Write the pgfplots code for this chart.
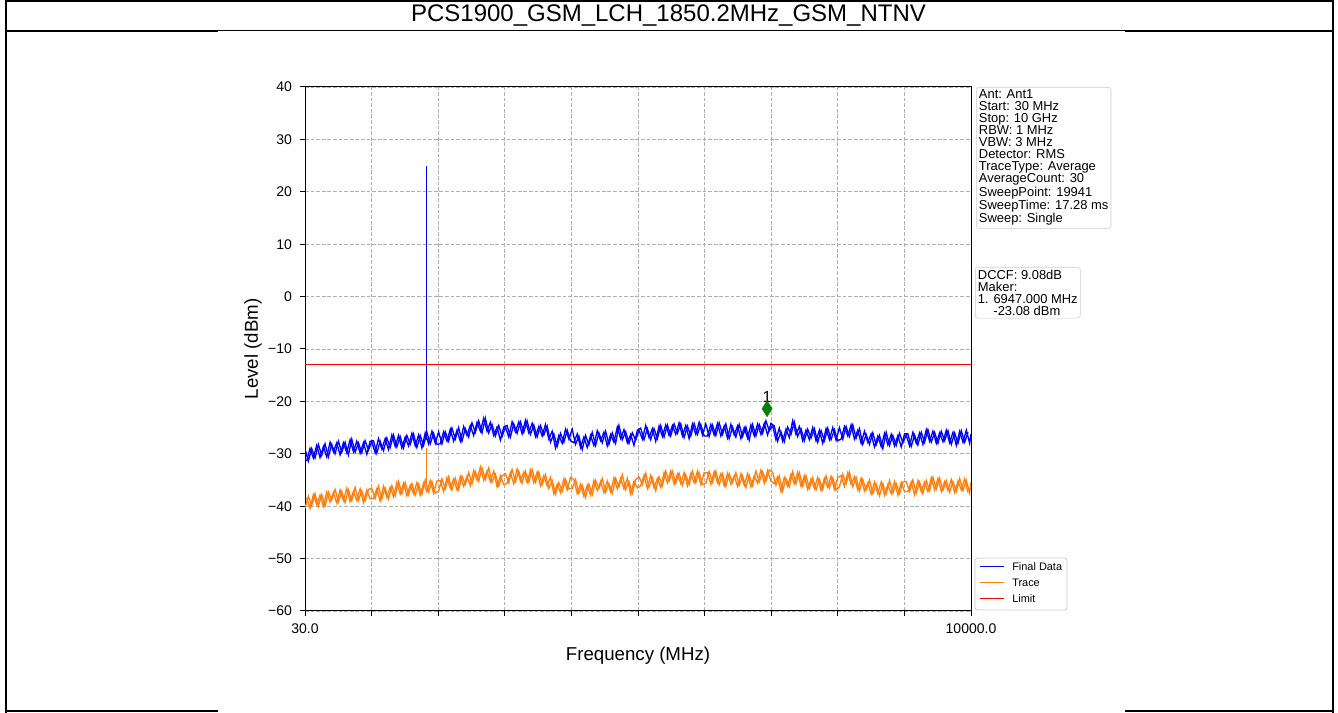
\documentclass[border=0pt]{standalone}
\usepackage{fontspec}
\setmainfont{Liberation Sans}
\usepackage{pgfplots}
\usepackage{pgfplotstable}
\pgfplotsset{compat=1.18}

\definecolor{fdblue}{RGB}{0,0,255}
\definecolor{trorange}{RGB}{255,127,14}
\definecolor{limred}{RGB}{255,0,0}
\definecolor{gridgray}{RGB}{176,176,176}
\definecolor{boxgray}{RGB}{204,204,204}
\definecolor{mkgreen}{RGB}{0,128,0}

% f = frequency (MHz), fd = Final Data (dBm), tr = Trace (dBm)
\pgfplotstableread{
f fd tr
30 -29.1 -40.4
80 -31.4 -38.1
130 -29.0 -39.9
180 -30.8 -37.6
230 -28.2 -40.0
280 -30.3 -37.8
330 -28.1 -40.0
380 -30.6 -37.3
430 -28.2 -38.8
480 -30.0 -36.8
530 -27.6 -39.2
580 -29.7 -37.2
630 -27.8 -39.3
680 -30.2 -36.9
730 -27.2 -38.9
780 -29.7 -36.4
830 -27.9 -38.9
880 -29.8 -37.1
930 -27.5 -39.0
980 -29.3 -36.8
1030 -27.7 -36.6
1080 -29.8 -38.5
1130 -27.1 -36.2
1180 -29.1 -38.6
1230 -27.1 -36.5
1280 -29.2 -38.6
1330 -26.4 -36.1
1380 -28.6 -38.0
1430 -26.5 -35.3
1480 -28.9 -37.6
1530 -26.8 -35.5
1580 -28.5 -37.8
1630 -26.1 -35.7
1680 -28.5 -37.9
1730 -26.4 -35.8
1780 -28.9 -37.7
1830 -26.0 -35.0
1880 -28.1 -37.3
1930 -25.7 -35.3
1980 -28.0 -37.5
2030 -25.8 -37.1
2080 -28.1 -34.8
2130 -25.8 -36.7
2180 -27.6 -34.4
2230 -25.1 -36.9
2280 -27.2 -34.7
2330 -25.0 -36.9
2380 -27.6 -34.3
2430 -25.2 -35.8
2480 -26.8 -33.6
2530 -24.1 -35.7
2580 -25.9 -33.4
2630 -23.7 -35.2
2680 -26.0 -32.7
2730 -23.2 -34.9
2780 -26.0 -32.7
2830 -24.4 -35.4
2880 -26.6 -33.9
2930 -24.6 -36.1
2980 -26.7 -34.2
3030 -24.9 -33.8
3080 -26.8 -35.5
3130 -23.9 -33.0
3180 -25.8 -35.3
3230 -23.9 -33.3
3280 -26.2 -35.6
3330 -23.6 -33.3
3380 -26.0 -35.4
3430 -24.2 -33.0
3480 -26.7 -35.4
3530 -24.8 -33.5
3580 -26.6 -35.9
3630 -24.4 -34.0
3680 -27.2 -36.6
3730 -25.7 -35.1
3780 -28.9 -37.7
3830 -26.5 -35.5
3880 -28.0 -37.2
3930 -25.3 -34.9
3980 -27.2 -36.7
4030 -25.3 -36.6
4080 -28.2 -34.9
4130 -26.6 -37.5
4180 -29.2 -36.0
4230 -26.5 -38.3
4280 -28.3 -35.8
4330 -25.9 -37.8
4380 -28.4 -35.1
4430 -26.0 -36.6
4480 -27.9 -34.7
4530 -25.7 -37.3
4580 -28.2 -35.7
4630 -26.0 -37.5
4680 -28.0 -34.7
4730 -24.6 -36.3
4780 -27.3 -34.0
4830 -25.8 -36.8
4880 -28.0 -35.3
4930 -26.0 -37.5
4980 -27.4 -34.9
5030 -25.5 -34.4
5080 -27.2 -35.9
5130 -24.6 -33.7
5180 -26.9 -36.4
5230 -25.2 -34.6
5280 -27.6 -37.0
5330 -24.7 -34.4
5380 -26.7 -36.1
5430 -24.5 -33.3
5480 -26.5 -35.2
5530 -24.6 -33.3
5580 -26.3 -35.6
5630 -24.1 -33.7
5680 -26.6 -36.0
5730 -24.6 -34.0
5780 -27.1 -35.9
5830 -24.3 -33.3
5880 -26.3 -35.5
5930 -24.0 -33.6
5980 -26.4 -35.9
6030 -24.3 -35.6
6080 -26.7 -33.4
6130 -24.5 -35.4
6180 -26.5 -33.3
6230 -24.1 -35.9
6280 -26.3 -33.8
6330 -24.3 -36.2
6380 -27.1 -33.8
6430 -24.9 -35.5
6480 -26.8 -33.6
6530 -24.4 -36.0
6580 -26.7 -34.2
6630 -24.9 -36.4
6680 -27.4 -34.1
6730 -24.4 -36.1
6780 -26.6 -33.3
6830 -24.4 -35.4
6880 -26.1 -33.4
6930 -23.7 -35.2
6980 -25.6 -33.1
7030 -24.6 -33.5
7080 -27.3 -36.0
7130 -25.1 -34.2
7180 -27.6 -37.1
7230 -25.3 -34.7
7280 -26.9 -36.3
7330 -23.7 -33.4
7380 -26.3 -35.7
7430 -24.8 -33.6
7480 -27.5 -36.2
7530 -25.5 -34.2
7580 -27.3 -36.6
7630 -25.0 -34.6
7680 -27.5 -36.9
7730 -25.5 -34.9
7780 -28.0 -36.8
7830 -25.2 -34.2
7880 -27.3 -36.5
7930 -25.0 -34.6
7980 -27.4 -36.9
8030 -25.0 -36.3
8080 -27.2 -33.9
8130 -24.8 -35.7
8180 -26.7 -33.5
8230 -24.5 -36.3
8280 -27.0 -34.5
8330 -25.2 -37.1
8380 -28.2 -34.9
8430 -26.3 -36.9
8480 -28.2 -35.0
8530 -26.0 -37.6
8580 -28.3 -35.8
8630 -26.5 -38.0
8680 -29.0 -35.7
8730 -25.9 -37.6
8780 -28.4 -35.1
8830 -26.5 -37.5
8880 -28.4 -35.7
8930 -26.1 -37.6
8980 -27.9 -35.4
9030 -26.4 -35.3
9080 -28.5 -37.2
9130 -25.9 -35.0
9180 -28.0 -37.5
9230 -26.0 -35.4
9280 -28.2 -37.6
9330 -25.4 -35.1
9380 -27.6 -37.0
9430 -25.7 -34.5
9480 -28.0 -36.7
9530 -26.0 -34.7
9580 -27.7 -37.0
9630 -25.5 -35.1
9680 -27.9 -37.3
9730 -25.9 -35.3
9780 -28.4 -37.2
9830 -25.7 -34.7
9880 -27.8 -37.0
9930 -25.5 -35.1
9980 -28.0 -37.5
10000 -26.2 -35.4
}\spectrum

% second set of sweep points, between the first ones
\pgfplotstableread{
f fd tr
55 -31.4 -38.4
105 -29.0 -40.4
155 -30.8 -37.8
205 -28.4 -39.7
255 -30.7 -37.9
305 -28.6 -40.0
355 -30.6 -37.3
405 -27.8 -39.2
455 -29.6 -37.4
505 -27.9 -39.4
555 -30.2 -36.9
605 -27.9 -38.9
655 -29.8 -36.6
705 -27.3 -39.1
755 -29.6 -37.2
805 -27.6 -38.9
855 -29.9 -36.7
905 -27.9 -39.3
955 -30.1 -36.9
1005 -27.6 -38.6
1055 -27.5 -38.5
1105 -29.9 -36.7
1155 -27.6 -39.0
1205 -29.4 -36.2
1255 -27.0 -38.3
1305 -28.8 -36.4
1355 -26.4 -38.2
1405 -28.7 -35.5
1455 -26.7 -37.7
1505 -28.9 -35.6
1555 -26.5 -38.0
1605 -28.2 -36.0
1655 -26.2 -37.6
1705 -28.8 -35.5
1755 -26.5 -37.9
1805 -28.4 -35.6
1855 -25.9 -37.2
1905 -28.1 -35.1
1955 -26.1 -37.5
2005 -28.2 -35.2
2055 -28.1 -35.1
2105 -25.8 -37.2
2155 -27.6 -34.6
2205 -25.3 -36.6
2255 -27.6 -34.8
2305 -25.5 -36.9
2355 -27.6 -34.3
2405 -24.8 -36.2
2455 -26.5 -34.3
2505 -24.6 -36.1
2555 -26.5 -33.2
2605 -24.0 -35.0
2655 -25.7 -32.5
2705 -23.2 -35.0
2755 -25.7 -33.3
2805 -24.0 -35.3
2855 -26.5 -33.3
2905 -24.9 -36.3
2955 -27.4 -34.2
3005 -24.9 -35.9
3055 -24.6 -35.6
3105 -26.8 -33.6
3155 -24.3 -35.7
3205 -26.1 -32.9
3255 -23.9 -35.2
3305 -25.9 -33.5
3355 -23.7 -35.5
3405 -26.3 -33.1
3455 -24.5 -35.5
3505 -26.8 -33.5
3555 -24.6 -36.1
3605 -26.4 -34.2
3655 -24.7 -36.1
3705 -27.8 -34.5
3755 -26.2 -37.6
3805 -28.6 -35.8
3855 -26.1 -37.4
3905 -27.8 -34.8
3955 -25.5 -36.9
4005 -27.5 -34.5
4055 -27.9 -34.9
4105 -26.2 -37.6
4155 -28.8 -35.8
4205 -26.8 -38.1
4255 -28.8 -36.0
4305 -26.5 -37.9
4355 -28.4 -35.1
4405 -25.6 -37.0
4455 -27.5 -35.3
4505 -25.9 -37.4
4555 -28.5 -35.2
4605 -26.3 -37.3
4655 -27.8 -34.6
4705 -24.9 -36.7
4755 -27.1 -34.7
4805 -25.4 -36.7
4855 -27.9 -34.7
4905 -26.3 -37.7
4955 -28.4 -35.2
5005 -25.5 -36.5
5055 -25.1 -36.1
5105 -27.3 -34.1
5155 -25.2 -36.6
5205 -27.3 -34.1
5255 -25.2 -36.5
5305 -27.1 -34.7
5355 -24.6 -36.4
5405 -26.8 -33.6
5455 -24.5 -35.5
5505 -26.6 -33.3
5555 -24.3 -35.8
5605 -26.1 -33.9
5655 -24.3 -35.7
5705 -26.9 -33.6
5755 -24.7 -36.1
5805 -26.6 -33.8
5855 -24.2 -35.5
5905 -26.3 -33.3
5955 -24.4 -35.8
6005 -26.6 -33.6
6055 -26.6 -33.6
6105 -24.4 -35.8
6155 -26.4 -33.4
6205 -24.2 -35.5
6255 -26.6 -33.8
6305 -24.7 -36.1
6355 -27.0 -33.7
6405 -24.4 -35.8
6455 -26.4 -34.2
6505 -24.7 -36.2
6555 -27.1 -33.8
6605 -25.0 -36.0
6655 -27.0 -33.8
6705 -24.5 -36.3
6755 -26.6 -34.2
6805 -24.3 -35.6
6855 -26.3 -33.1
6905 -24.2 -35.6
6955 -26.4 -33.2
7005 -24.2 -35.2
7055 -24.7 -35.7
7105 -27.6 -34.4
7155 -25.8 -37.2
7205 -27.7 -34.5
7255 -24.9 -36.2
7305 -26.3 -33.9
7355 -23.9 -35.7
7405 -26.7 -33.5
7455 -25.2 -36.2
7505 -27.5 -34.2
7555 -25.3 -36.8
7605 -27.0 -34.8
7655 -25.2 -36.6
7705 -27.8 -34.5
7755 -25.6 -37.0
7805 -27.5 -34.7
7855 -25.1 -36.4
7905 -27.3 -34.3
7955 -25.4 -36.8
8005 -27.5 -34.5
8055 -27.2 -34.2
8105 -24.8 -36.2
8155 -26.6 -33.6
8205 -24.5 -35.8
8255 -27.2 -34.4
8305 -25.5 -36.9
8355 -28.0 -34.7
8405 -25.7 -37.1
8455 -27.8 -35.6
8505 -26.2 -37.7
8555 -28.7 -35.4
8605 -26.6 -37.6
8655 -28.6 -35.4
8705 -26.1 -37.9
8755 -28.3 -35.9
8805 -26.3 -37.6
8855 -28.5 -35.3
8905 -26.5 -37.9
8955 -28.7 -35.5
9005 -26.2 -37.2
9055 -26.2 -37.2
9105 -28.6 -35.4
9155 -26.4 -37.8
9205 -28.3 -35.1
9255 -25.9 -37.2
9305 -27.8 -35.4
9355 -25.4 -37.2
9405 -27.8 -34.6
9455 -25.9 -36.9
9505 -28.0 -34.7
9555 -25.7 -37.2
9605 -27.5 -35.3
9655 -25.6 -37.0
9705 -28.2 -34.9
9755 -26.0 -37.4
9805 -28.0 -35.2
9855 -25.6 -36.9
9905 -27.8 -34.8
9955 -25.9 -37.4
}\spectrumb

\begin{document}
\begin{tikzpicture}
\useasboundingbox (0,0) rectangle (1003.5pt,534.75pt);
\begin{axis}[
    at={(228.75pt,76.5pt)}, anchor=south west,
    scale only axis, width=499.5pt, height=393pt,
    xmin=30, xmax=10000, ymin=-60, ymax=40,
    scaled x ticks=false,
    xtick={30,1027,2024,3021,4018,5015,6012,7009,8006,9003,10000},
    xticklabels={30.0,,,,,,,,,,10000.0},
    ytick={-60,-50,...,40},
    yticklabels={−60,−50,−40,−30,−20,−10,0,10,20,30,40},
    tick align=outside, xtick pos=bottom, ytick pos=left,
    major tick length=3.75pt,
    tick style={black, line width=0.75pt},
    axis line style={line width=0.75pt},
    grid=major,
    major grid style={gridgray, dash pattern=on 2.8pt off 1.4pt, line width=0.6pt},
    ticklabel style={font=\fontsize{10.5}{12}\selectfont},
    yticklabel style={xshift=-2.5pt},
    xticklabel style={yshift=-2pt},
    xlabel={Frequency (MHz)}, ylabel={Level (dBm)},
    label style={font=\fontsize{14}{16}\selectfont},
    xlabel style={at={(axis description cs:0.5,-0.0859)}, anchor=center},
    ylabel style={at={(axis description cs:-0.0781,0.5)}, anchor=center},
]
% Final Data and Trace
\addplot[trorange, line width=1pt] table[x=f, y=tr] {\spectrum};
\addplot[trorange, line width=1pt] table[x=f, y=tr] {\spectrumb};
\addplot[fdblue, line width=1pt] table[x=f, y=fd] {\spectrum};
\addplot[fdblue, line width=1pt] table[x=f, y=fd] {\spectrumb};
% carrier at 1850.2 MHz
\addplot[trorange, line width=0.75pt] coordinates {(1850.2,-36.3) (1850.2,-28.9)};
\addplot[fdblue, line width=0.75pt] coordinates {(1850.2,-27.3) (1850.2,25)};
% Limit
\addplot[limred, line width=0.75pt] coordinates {(30,-13) (10000,-13)};
% marker 1
\addplot[only marks, mark=diamond*, mark size=6pt,
    mark options={fill=mkgreen, draw=mkgreen, xscale=0.83}]
    coordinates {(6947,-21.4)};
\node[anchor=south, inner sep=0pt, yshift=4.5pt, font=\fontsize{12}{12}\selectfont]
    at (axis cs:6947,-21.4) {1};
\end{axis}

\begin{scope}[x=0.75pt, y=0.75pt]
  % page frame
  \draw[line width=1.5pt] (6,711.5) -- (1333,711.5);
  \draw[line width=1.5pt] (6,713) -- (6,0);
  \draw[line width=1.5pt] (1333,713) -- (1333,0);
  \draw[line width=0.75pt] (6,682) -- (1333,682);
  \draw[line width=1.5pt] (6,682) -- (218,682) (1125,682) -- (1333,682);
  \draw[line width=1.5pt] (6,1.5) -- (218,1.5) (1125,1.5) -- (1333,1.5);
  % legend
  \draw[boxgray, line width=0.6pt, rounded corners=2pt] (975,103) rectangle (1067,155);
  \draw[fdblue, line width=0.75pt] (980,146) -- (1004,146);
  \draw[trorange, line width=0.75pt] (980,130) -- (1004,130);
  \draw[limred, line width=0.75pt] (980,114) -- (1004,114);
  \node[anchor=west, inner sep=0pt, font=\fontsize{8.2}{9}\selectfont] at (1012,146) {Final Data};
  \node[anchor=west, inner sep=0pt, font=\fontsize{8.2}{9}\selectfont] at (1012,130) {Trace};
  \node[anchor=west, inner sep=0pt, font=\fontsize{8.2}{9}\selectfont] at (1012,114) {Limit};
  % title
  \node[font=\fontsize{18}{20}\selectfont] at (668.5,697) {PCS1900\_GSM\_LCH\_1850.2MHz\_GSM\_NTNV};
  % setting boxes
  \node[anchor=north west, draw=boxgray, rounded corners=2pt, align=left,
        inner sep=2pt, font=\fontsize{9.7}{9}\selectfont] at (976,626)
    {Ant: Ant1\\Start: 30 MHz\\Stop: 10 GHz\\RBW: 1 MHz\\VBW: 3 MHz\\Detector: RMS\\TraceType: Average\\AverageCount: 30\\SweepPoint: 19941\\SweepTime: 17.28 ms\\Sweep: Single};
  \node[anchor=north west, draw=boxgray, rounded corners=2pt, align=left,
        inner sep=2pt, font=\fontsize{9.7}{9}\selectfont] at (975,446)
    {DCCF: 9.08dB\\Maker:\\1. 6947.000 MHz\\\hspace*{1.2em}-23.08 dBm};
\end{scope}
\end{tikzpicture}
\end{document}
